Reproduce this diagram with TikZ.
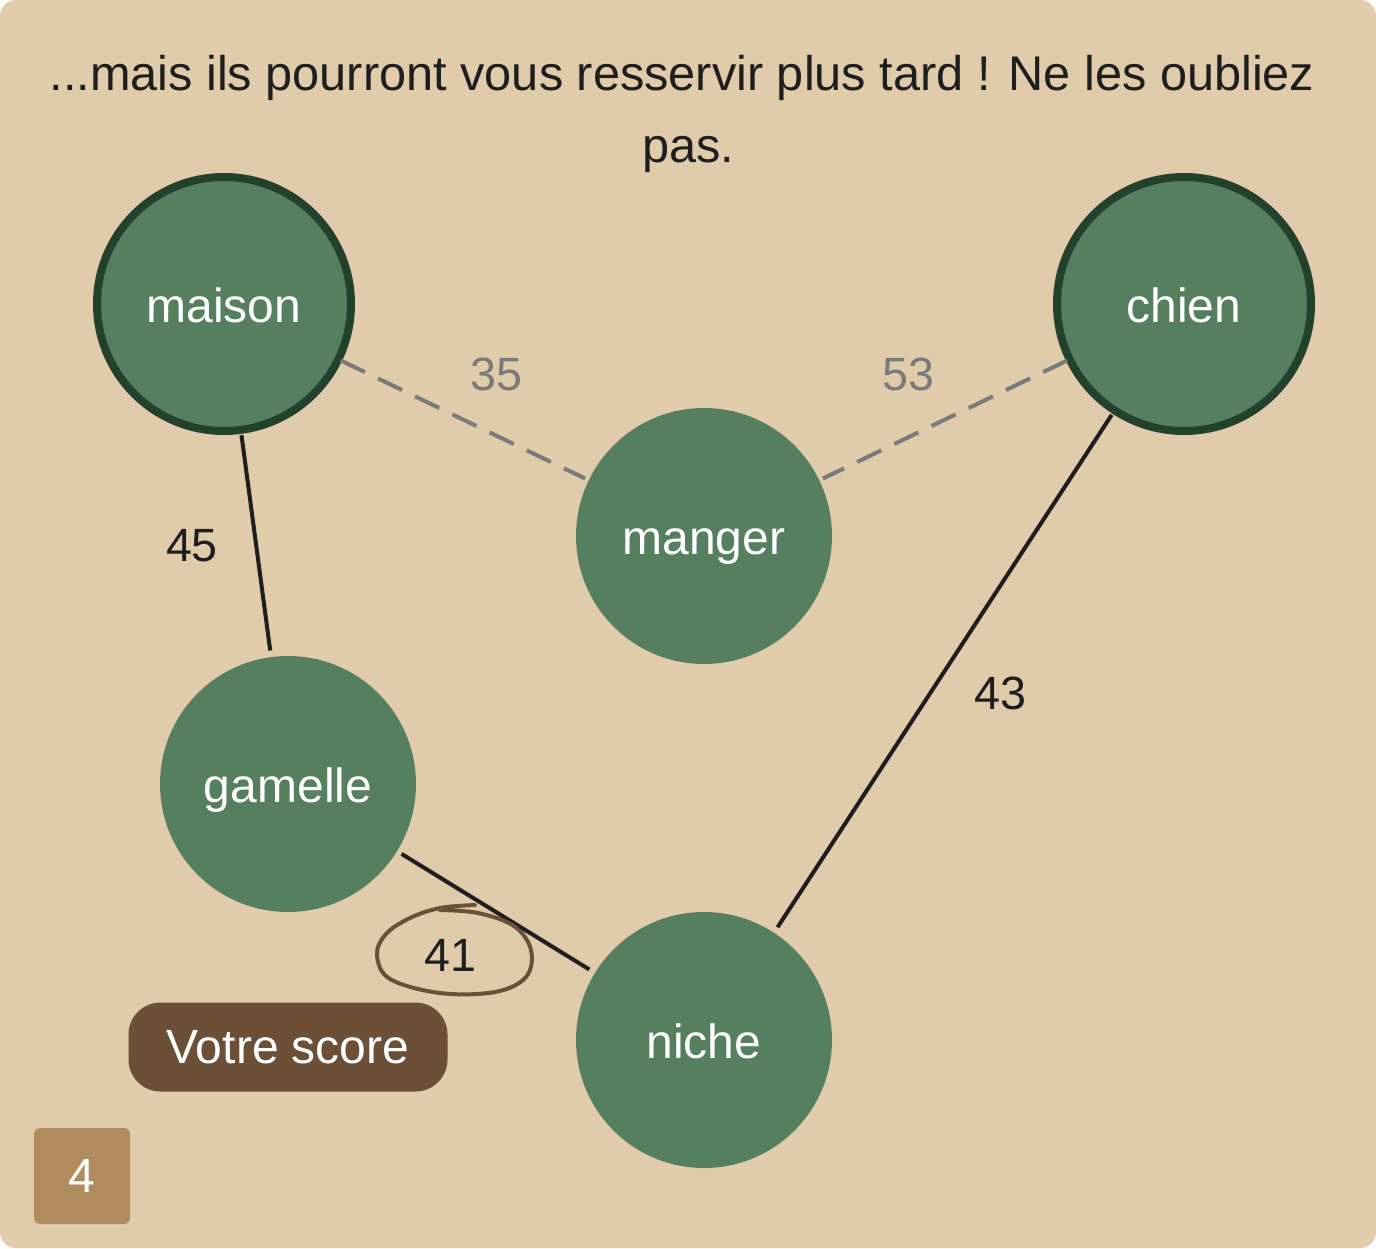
\documentclass[tikz,border=0pt]{standalone}
\usepackage{fontspec}
\setmainfont{Liberation Sans}
\begin{document}
\begin{tikzpicture}[x=0.75pt,y=-0.75pt,
  every node/.style={inner sep=0pt, outer sep=0pt},
  gnode/.style={circle, fill=nodegreen, minimum size=256*0.75pt, text=white, font=\fontsize{36}{42}\selectfont, text height=32pt, text depth=4pt},
  bnode/.style={gnode, draw=borderg, line width=6pt, minimum size=254*0.75pt},
  solidedge/.style={draw=edgeblack, line width=3pt, shorten <=4pt, shorten >=5pt},
  dashedge/.style={draw=edgegray, line width=3pt, dash pattern=on 20pt off 11pt, shorten <=2pt, shorten >=3pt},
  lbl/.style={font=\fontsize{35}{40}\selectfont, text=edgeblack},
  glbl/.style={lbl, text=edgegray},
  titletext/.style={text=edgeblack, font=\fontsize{36.5}{42}\selectfont, text height=32pt, text depth=4pt},
]
\definecolor{bg}{HTML}{E0CBAB}
\definecolor{nodegreen}{HTML}{557F5F}
\definecolor{borderg}{HTML}{23412C}
\definecolor{edgeblack}{HTML}{1E1E1E}
\definecolor{edgegray}{HTML}{7A7A7A}
\definecolor{brownpill}{HTML}{6B4F36}
\definecolor{tanbox}{HTML}{B08B5B}
\definecolor{inkbrown}{HTML}{6B5038}
\useasboundingbox (0,0) rectangle (1376,1248);
\fill[white] (0,0) rectangle (1376,1248);
\fill[bg, rounded corners=12pt] (0,0) rectangle (1376,1248);

\node[titletext] (t1) at (682,72) {...mais ils pourront vous resservir plus tard ! Ne les oubliez};
\node[titletext] (t2) at (688,144) {pas.};

\node[bnode] (maison) at (224,304) {maison};
\node[bnode] (chien) at (1184,304) {chien};
\node[gnode] (manger) at (704,536) {manger};
\node[gnode] (gamelle) at (288,784) {gamelle};
\node[gnode] (niche) at (704,1040) {niche};

\draw[dashedge] (maison) -- (manger);
\draw[dashedge] (chien) -- (manger);
\draw[solidedge] (maison) -- (gamelle);
\draw[solidedge] (gamelle) -- (niche);
\draw[solidedge] (chien) -- (niche);

\node[glbl] (l35) at (496,374) {35};
\node[glbl] (l53) at (908,374) {53};
\node[lbl] (l45) at (192,546) {45};
\node[lbl] (l43) at (1000,693) {43};
\node[lbl] (l41) at (450,955) {41};

\draw[inkbrown, line width=3pt, line cap=round, line join=round]
  plot[smooth, tension=0.6] coordinates {(475,905) (440,908) (410,918) (386,934) (377,955) (390,979) (440,993) (495,992) (526,977) (531,950) (514,926) (478,913) (440,910)};

\node[fill=brownpill, rounded corners=24pt, minimum width=319*0.75pt, minimum height=89*0.75pt, text=white, font=\fontsize{36}{42}\selectfont] (score) at (288,1047) {Votre score};
\node[fill=tanbox, rounded corners=4pt, minimum width=96*0.75pt, minimum height=96*0.75pt, text=white, font=\fontsize{36}{42}\selectfont] (num) at (82,1176) {4};
\end{tikzpicture}
\end{document}
